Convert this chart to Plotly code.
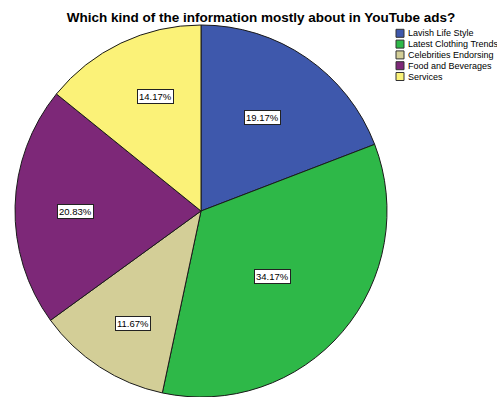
import math
import plotly.graph_objects as go

# Survey answers: what YouTube ads are mostly about
categories = ["Lavish Life Style", "Latest Clothing Trends", "Celebrities Endorsing",
              "Food and Beverages", "Services"]
percents = [19.17, 34.17, 11.67, 20.83, 14.17]
colors = ["#3E58AC", "#2EB848", "#D3CE97", "#7D2878", "#FBF278"]

W, H = 497, 397
R = 187                 # pie radius in px
CX, CY = 201, 212       # pie centre in px (from top-left)

# distance of each value box from the centre, as a share of the radius
label_radius = [0.6, 0.515, 0.70, 0.67, 0.665]
label_turn = [-1.5, 1.4, -1.5, -1.2, 3.8]   # small angular nudge in degrees

fig = go.Figure(go.Pie(
    labels=categories,
    values=percents,
    marker=dict(colors=colors, line=dict(color="#1a1a1a", width=1)),
    sort=False,
    direction="clockwise",
    rotation=0,
    textinfo="none",
    hoverinfo="label+percent",
    showlegend=False,
    domain=dict(x=[(CX - R) / W, (CX + R) / W],
                y=[max(0, (H - CY - R) / H), (H - CY + R) / H]),
))

# Percentage labels in white boxes, placed along each slice's mid angle
total = sum(percents)
cum = 0.0
for v, f, t in zip(percents, label_radius, label_turn):
    mid = (cum + v / 2) / total * 2 * math.pi + math.radians(t)
    cum += v
    px = CX + f * R * math.sin(mid)
    py = CY - f * R * math.cos(mid)
    fig.add_annotation(
        x=px / W, y=1 - py / H, xref="paper", yref="paper",
        xanchor="center", yanchor="middle",
        text=f"{v:.2f}%", showarrow=False,
        font=dict(family="Arial, Liberation Sans", size=9.5, color="#000"),
        bgcolor="white", bordercolor="#222", borderwidth=1, borderpad=1,
    )

# Legend: coloured squares with category names
LX, LY, DY, S = 396, 33.3, 10.8, 8
for i, (name, c) in enumerate(zip(categories, colors)):
    yc = LY + i * DY
    fig.add_shape(type="rect", xref="paper", yref="paper",
                  x0=LX / W, x1=(LX + S) / W,
                  y0=1 - (yc - S / 2) / H, y1=1 - (yc + S / 2) / H,
                  fillcolor=c, line=dict(color="#333", width=1))
    fig.add_annotation(x=(LX + S + 2) / W, y=1 - yc / H, xref="paper", yref="paper",
                       text=name, showarrow=False, xanchor="left", yanchor="middle",
                       font=dict(family="Arial, Liberation Sans", size=9, color="#000"))

fig.update_layout(
    width=W, height=H,
    margin=dict(l=0, r=0, t=0, b=0),
    paper_bgcolor="white", plot_bgcolor="white",
    title=dict(text="<b>Which kind of the information mostly about in YouTube ads?</b>",
               x=261 / W, xanchor="center", y=1 - 17 / H, yanchor="middle",
               font=dict(family="Arial, Liberation Sans", size=13.5, color="#000")),
)

fig.write_html("out.html")
